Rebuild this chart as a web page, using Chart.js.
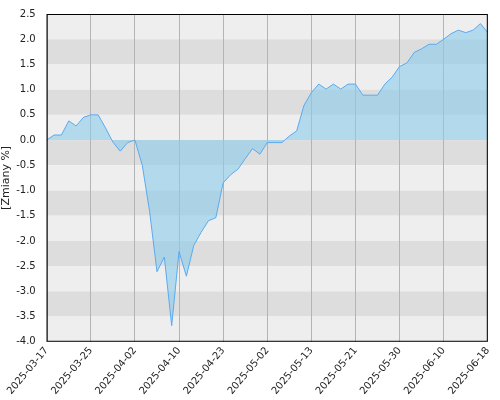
<!DOCTYPE html>
<html>
<head>
<meta charset="utf-8">
<script src="https://cdn.jsdelivr.net/npm/chart.js@4"></script>
<style>
  body { margin: 0; background: #fff; }
</style>
</head>
<body>
<canvas id="chart" width="500" height="400"></canvas>
<script>
const dates = [
  '2025-03-17','2025-03-18','2025-03-19','2025-03-20','2025-03-21','2025-03-24',
  '2025-03-25','2025-03-26','2025-03-27','2025-03-28','2025-03-31','2025-04-01',
  '2025-04-02','2025-04-03','2025-04-04','2025-04-07','2025-04-08','2025-04-09',
  '2025-04-10','2025-04-11','2025-04-14','2025-04-15','2025-04-17','2025-04-22',
  '2025-04-23','2025-04-24','2025-04-25','2025-04-28','2025-04-29','2025-04-30',
  '2025-05-02','2025-05-05','2025-05-06','2025-05-08','2025-05-09','2025-05-12',
  '2025-05-13','2025-05-14','2025-05-15','2025-05-16','2025-05-19','2025-05-20',
  '2025-05-21','2025-05-22','2025-05-23','2025-05-26','2025-05-27','2025-05-29',
  '2025-05-30','2025-06-02','2025-06-03','2025-06-04','2025-06-05','2025-06-09',
  '2025-06-10','2025-06-11','2025-06-12','2025-06-13','2025-06-16','2025-06-17',
  '2025-06-18'
]
const changes = [
  0, 0.1, 0.1, 0.38, 0.28, 0.45, 0.5, 0.5, 0.24, -0.04, -0.22, -0.05,
  0, -0.5, -1.42, -2.61, -2.32, -3.68, -2.21, -2.7, -2.09, -1.83, -1.6, -1.54,
  -0.85, -0.69, -0.58, -0.37, -0.17, -0.28, -0.05, -0.05, -0.05, 0.08, 0.18, 0.69,
  0.94, 1.11, 1.01, 1.11, 1.01, 1.11, 1.11, 0.89, 0.89, 0.89, 1.11, 1.25,
  1.46, 1.53, 1.74, 1.81, 1.9, 1.9, 2.0, 2.11, 2.18, 2.13, 2.18, 2.31,
  2.13
]
const labelEvery = 6
const yMin = -4, yMax = 2.5, yStep = 0.5

// alternating horizontal bands + frame
const bands = {
  id: 'bands',
  beforeDraw(chart) {
    const {ctx, chartArea: a, scales: {y}} = chart
    ctx.save()
    let i = 0
    for (let v = yMax; v > yMin; v -= yStep) {
      const top = y.getPixelForValue(v), bot = y.getPixelForValue(v - yStep)
      ctx.fillStyle = i % 2 ? '#dddddd' : '#eeeeee'
      ctx.fillRect(a.left, top, a.right - a.left, bot - top)
      i++
    }
    ctx.restore()
  },
  afterDraw(chart) {
    const {ctx, chartArea: a} = chart
    ctx.save()
    ctx.strokeStyle = '#000'
    ctx.lineWidth = 1
    ctx.strokeRect(a.left + 0.5, a.top + 0.5, a.right - a.left - 1, a.bottom - a.top - 1)
    ctx.restore()
  }
}

new Chart(document.getElementById('chart'), {
  type: 'line',
  data: {
    labels: dates,
    datasets: [{
      data: changes,
      borderColor: '#5aaaf0',
      borderWidth: 1,
      backgroundColor: 'rgba(140, 205, 235, 0.6)',
      fill: 'origin',
      pointRadius: 0,
      tension: 0
    }]
  },
  plugins: [bands],
  options: {
    responsive: false,
    animation: false,
    devicePixelRatio: 1,
    layout: { padding: { top: 14, right: 3 } },
    plugins: { legend: { display: false }, tooltip: { enabled: false } },
    scales: {
      x: {
        offset: false,
        grid: {
          color: c => c.index % labelEvery === 0 ? '#b4b4b4' : 'transparent',
          drawTicks: false
        },
        border: { display: false },
        ticks: {
          autoSkip: false,
          maxRotation: 50, minRotation: 50,
          color: '#222',
          font: { family: 'DejaVu Sans', size: 10 },
          callback: (v, i) => i % labelEvery === 0 ? dates[i] : ''
        }
      },
      y: {
        min: yMin, max: yMax,
        grid: { display: false },
        border: { display: false },
        title: { display: true, text: '[Zmiany %]', color: '#222', font: { family: 'DejaVu Sans', size: 11 }, padding: 0 },
        ticks: {
          stepSize: yStep,
          color: '#222',
          font: { family: 'DejaVu Sans', size: 10 },
          callback: v => v.toFixed(1)
        }
      }
    }
  }
})
</script>
</body>
</html>
